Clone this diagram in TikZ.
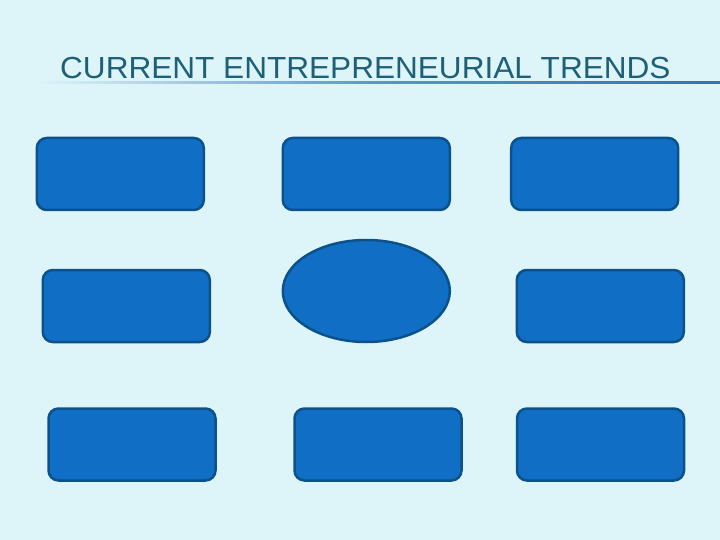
\documentclass[tikz,border=0pt]{standalone}
\usepackage{fontspec}
\setmainfont{Liberation Sans}
\usepackage{tikz}
\usetikzlibrary{shapes.geometric}

\definecolor{pagebg}{RGB}{221,244,248}
\definecolor{titleink}{RGB}{30,96,119}
\definecolor{boxfill}{RGB}{16,111,196}
\definecolor{boxedge}{RGB}{11,81,140}
\definecolor{ruleblue}{RGB}{46,117,182}

\tikzset{
  trendbox/.style={draw=boxedge, fill=boxfill, line width=2.5pt, rounded corners=10pt,
    minimum width=167pt, minimum height=72pt, inner sep=0pt},
  trendoval/.style={draw=boxedge, fill=boxfill, line width=2.5pt, ellipse,
    minimum width=167pt, minimum height=102pt, inner sep=0pt}
}

\begin{document}
\begin{tikzpicture}[x=1pt, y=-1pt]
		\useasboundingbox[fill=pagebg] (0, 0) rectangle (720, 540) ; % Page 
\node[anchor=base west, inner sep=0pt, text=titleink, font=\fontsize{30.5}{34}\selectfont] (title) at (60, 79) {\scalebox{1.035}[1]{CURRENT ENTREPRENEURIAL TRENDS}}; % Title 
\shade[left color=pagebg, right color=ruleblue, middle color=ruleblue!75!pagebg] (38, 82) rectangle (720, 84) ; % Title.rule 
\node[trendbox] (trendA) at (120.3, 174) {}; % Box.1 
\node[trendbox] (trendB) at (366.3, 174) {}; % Box.2 
\node[trendbox] (trendC) at (594.7, 174) {}; % Box.3 
\node[trendbox] (trendD) at (126.3, 306) {}; % Box.4 
\node[trendoval] (hub) at (366.3, 291) {}; % Oval 
\node[trendbox] (trendE) at (600.3, 306) {}; % Box.6 
\node[trendbox] (trendF) at (132, 444.5) {}; % Box.7 
\node[trendbox] (trendG) at (378, 444.5) {}; % Box.8 
\node[trendbox] (trendH) at (600.5, 444.5) {}; % Box.9 

		\end{tikzpicture}
\end{document}
